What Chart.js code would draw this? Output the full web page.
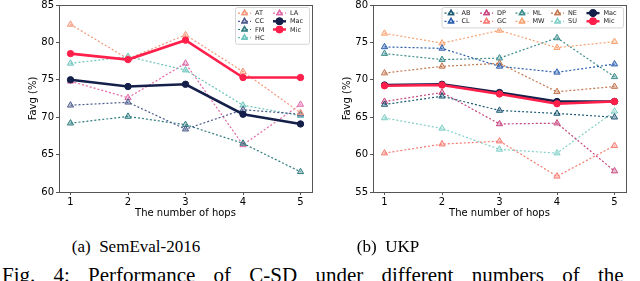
<!DOCTYPE html>
<html>
<head>
<meta charset="utf-8">
<script src="https://cdn.jsdelivr.net/npm/chart.js@4.4.1/dist/chart.umd.min.js"></script>
<style>
  body { margin: 0; background: #fff; width: 640px; height: 281px; overflow: hidden; position: relative; }
  .box { position: absolute; top: 0; width: 320px; height: 225px; }
  .cap { position: absolute; font-family: "Liberation Serif", serif; color: #000; white-space: nowrap; }
</style>
</head>
<body>
<div class="box" style="left:0"><canvas id="semChart" width="320" height="225"></canvas></div>
<div class="box" style="left:314px"><canvas id="ukpChart" width="320" height="225"></canvas></div>
<div class="cap" style="left:136px; top:237px; font-size:17px; transform:translateX(-50%)">(a)&nbsp; SemEval-2016</div>
<div class="cap" style="left:388px; top:237px; font-size:17px; transform:translateX(-50%)">(b)&nbsp; UKP</div>
<div class="cap" style="left:2px; top:263px; font-size:21px; word-spacing:13px">Fig. 4: Performance of C-SD under different numbers of the hops</div>

<script>
// x values (number of hops)
const hops = [1, 2, 3, 4, 5];

// SemEval-2016 series
const semAT = [82.4, 77.8, 81.0, 76.1, 70.6];
const semCC = [71.6, 72.0, 68.4, 71.0, 70.4];
const semFM = [69.2, 70.1, 69.0, 66.5, 62.7];
const semHC = [77.2, 78.1, 76.3, 71.6, 70.2];
const semLA = [74.8, 72.6, 77.2, 66.3, 71.7];
const semMac = [75.0, 74.1, 74.4, 70.4, 69.1];
const semMic = [78.5, 77.7, 80.3, 75.3, 75.3];

// UKP series
const ukpAB = [66.7, 67.8, 65.9, 65.5, 65.0];
const ukpCL = [74.4, 74.2, 71.8, 71.0, 72.1];
const ukpDP = [67.1, 68.3, 64.1, 64.2, 57.8];
const ukpGC = [60.2, 61.4, 61.8, 57.1, 61.2];
const ukpML = [73.5, 72.7, 72.9, 75.6, 70.4];
const ukpMW = [76.2, 74.9, 76.6, 74.3, 75.1];
const ukpNE = [70.9, 71.8, 72.2, 68.4, 69.1];
const ukpSU = [64.9, 63.5, 60.7, 60.2, 65.8];
const ukpMac = [69.3, 69.4, 68.3, 67.1, 67.1];
const ukpMic = [69.2, 69.3, 68.1, 66.8, 67.1];

const tickFont = { family: "DejaVu Sans", size: 10 };

function toPoints(values) {
  return hops.map((h, i) => ({ x: h, y: values[i] }));
}

// dotted line with triangle markers
function dotted(label, values, color) {
  return {
    label: label,
    data: toPoints(values),
    borderColor: color,
    backgroundColor: color + "55",
    borderWidth: 1.2,
    borderDash: [2, 2],
    pointStyle: "triangle",
    pointRadius: 3.6,
    pointBorderWidth: 1,
    pointBackgroundColor: color + "55",
    pointBorderColor: color,
    order: 2,
    dotted: true
  };
}

// thick solid line with circle markers
function solid(label, values, color, order) {
  return {
    label: label,
    data: toPoints(values),
    borderColor: color,
    backgroundColor: color,
    borderWidth: 2.6,
    pointStyle: "circle",
    pointRadius: 3.2,
    pointBorderWidth: 1,
    pointBackgroundColor: color,
    pointBorderColor: color,
    order: order
  };
}

// frame around the plot area + matplotlib-like legend in the upper right
const framePlugin = {
  id: "frame",
  afterDatasetsDraw(chart) {
    const a = chart.chartArea;
    const c = chart.ctx;
    c.save();
    c.strokeStyle = "#555";
    c.lineWidth = 1;
    c.strokeRect(Math.round(a.left) + 0.5, Math.round(a.top) + 0.5,
      Math.round(a.right - a.left), Math.round(a.bottom - a.top));
    c.restore();
  }
};

const legendPlugin = {
  id: "mplLegend",
  afterDraw(chart, args, opts) {
    const c = chart.ctx;
    const a = chart.chartArea;
    const sets = chart.data.datasets;
    const rows = opts.rows;
    const cols = Math.ceil(sets.length / rows);
    const colW = opts.colW, rowH = opts.rowH;
    const w = cols * colW + 4;
    const h = rows * rowH + 4;
    const x0 = a.right - 3 - w;
    const y0 = a.top + 2;
    c.save();
    c.fillStyle = "rgba(255,255,255,0.85)";
    c.strokeStyle = "#ccc";
    c.lineWidth = 0.8;
    c.beginPath();
    c.roundRect(x0 + 0.5, y0 + 0.5, w, h, 2);
    c.fill();
    c.stroke();
    c.font = "6.5px 'DejaVu Sans'";
    c.textBaseline = "middle";
    sets.forEach((ds, i) => {
      const col = Math.floor(i / rows);
      const row = i % rows;
      const hx = x0 + 3 + col * colW;
      const hy = y0 + 2 + rowH / 2 + row * rowH;
      c.strokeStyle = ds.borderColor;
      c.lineWidth = ds.dotted ? 1.2 : 2.4;
      c.setLineDash(ds.dotted ? [2, 2] : []);
      c.beginPath();
      c.moveTo(hx, hy);
      c.lineTo(hx + 13, hy);
      c.stroke();
      c.setLineDash([]);
      c.fillStyle = "#fff";
      Chart.helpers.drawPoint(c, { pointStyle: ds.pointStyle, radius: ds.dotted ? 3 : 2.6, borderWidth: 1 }, hx + 6.5, hy);
      c.fillStyle = ds.pointBackgroundColor;
      c.strokeStyle = ds.pointBorderColor;
      Chart.helpers.drawPoint(c, { pointStyle: ds.pointStyle, radius: ds.dotted ? 3 : 2.6, borderWidth: 1 }, hx + 6.5, hy);
      c.fillStyle = "#222";
      c.fillText(ds.label, hx + 17, hy + 0.5);
    });
    c.restore();
  }
};

function makeChart(id, datasets, yMin, yMax, legendRows, colW) {
  return new Chart(document.getElementById(id), {
    type: "line",
    data: { datasets: datasets },
    plugins: [framePlugin, legendPlugin],
    options: {
      responsive: false,
      animation: false,
      layout: { padding: { left: 0, right: 8, top: 3, bottom: 0 } },
      plugins: {
        legend: { display: false },
        tooltip: { enabled: false },
        mplLegend: { rows: legendRows, colW: colW, rowH: 8.2 }
      },
      scales: {
        x: {
          type: "linear",
          min: 0.8,
          max: 5.2,
          afterBuildTicks: s => { s.ticks = hops.map(v => ({ value: v })); },
          afterFit: s => { s.height = 33; s.paddingLeft = 0; s.paddingRight = 0; },
          ticks: { font: tickFont, color: "#000", padding: 1, maxRotation: 0 },
          grid: { drawOnChartArea: false, tickLength: 3, color: "#555" },
          border: { display: false },
          title: {
            display: true, text: "The number of hops", color: "#000",
            font: tickFont, padding: { top: 0, bottom: 6 }
          }
        },
        y: {
          min: yMin,
          max: yMax,
          afterFit: s => { s.width = 59; s.paddingTop = 0; s.paddingBottom = 0; },
          ticks: { stepSize: 5, font: tickFont, color: "#000", padding: 2 },
          grid: { drawOnChartArea: false, tickLength: 3, color: "#555" },
          border: { display: false },
          title: {
            display: true, text: "Favg (%)", color: "#000",
            font: tickFont, padding: { top: 27, bottom: 0 }
          }
        }
      }
    }
  });
}

makeChart("semChart", [
  dotted("AT", semAT, "#f4977a"),
  dotted("CC", semCC, "#4c5b8c"),
  dotted("FM", semFM, "#2f7c80"),
  dotted("HC", semHC, "#6cc4bc"),
  dotted("LA", semLA, "#e26aa8"),
  solid("Mac", semMac, "#14204a", 1),
  solid("Mic", semMic, "#ff1f4b", 0)
], 60, 85, 4, 35);

makeChart("ukpChart", [
  dotted("AB", ukpAB, "#1e5b74"),
  dotted("CL", ukpCL, "#2b5fae"),
  dotted("DP", ukpDP, "#c8467f"),
  dotted("GC", ukpGC, "#f77b72"),
  dotted("ML", ukpML, "#3d8c8c"),
  dotted("MW", ukpMW, "#f7a272"),
  dotted("NE", ukpNE, "#c2774f"),
  dotted("SU", ukpSU, "#82d0c8"),
  solid("Mac", ukpMac, "#14204a", 1),
  solid("Mic", ukpMic, "#ff1f4b", 0)
], 55, 80, 2, 35.5);
</script>
</body>
</html>
